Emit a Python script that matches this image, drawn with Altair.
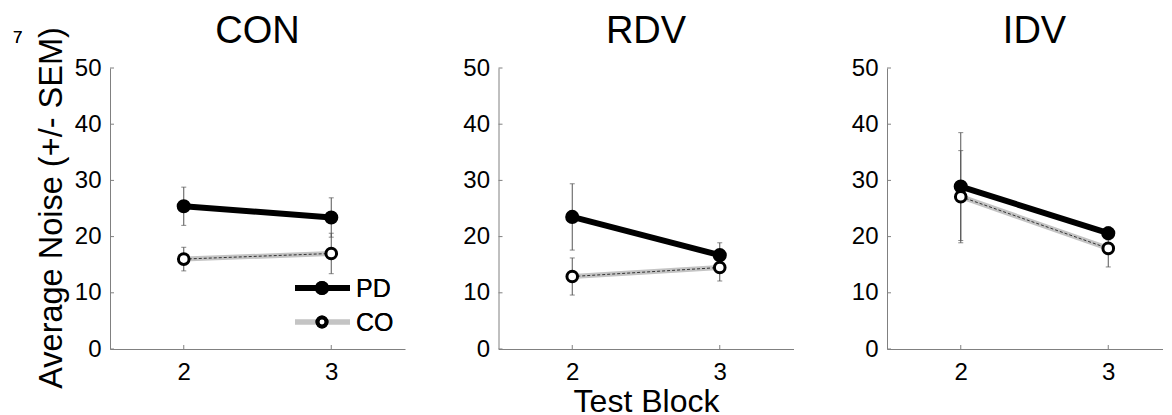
import altair as alt
import pandas as pd

# ---- data ----
conditions = ["CON", "RDV", "IDV"]
blocks = [2, 3]
groups = ["PD", "CO"]

pd_mean = {"CON": [25.4, 23.4], "RDV": [23.5, 16.7], "IDV": [28.9, 20.6]}
pd_sem = {"CON": [3.4, 3.5], "RDV": [5.9, 2.2], "IDV": [9.6, 1.2]}
co_mean = {"CON": [16.0, 17.0], "RDV": [12.9, 14.5], "IDV": [27.1, 17.9]}
co_sem = {"CON": [2.1, 3.6], "RDV": [3.3, 2.4], "IDV": [8.2, 3.3]}

y_ticks = [0, 10, 20, 30, 40, 50]
legend_labels = ["PD", "CO"]

rows = []
for c in conditions:
    for g, m, s in (("PD", pd_mean, pd_sem), ("CO", co_mean, co_sem)):
        for i, b in enumerate(blocks):
            rows.append({"condition": c, "group": g, "block": b,
                         "mean": m[c][i], "lo": m[c][i] - s[c][i], "hi": m[c][i] + s[c][i]})
df = pd.DataFrame(rows)
ticks_df = pd.DataFrame({"v": y_ticks})
xt_df = pd.DataFrame({"b": blocks})

FONT = "Liberation Sans"
H = 281
UNIT = 147.5  # px per block unit
AX = "#808080"


def panel(cond, width, first=False, middle=False):
    d = df[df.condition == cond]
    xs = alt.Scale(domain=[1.5, 1.5 + width / UNIT], nice=False, zero=False)
    ys = alt.Scale(domain=[0, 50], nice=False)
    xaxis = alt.Axis(values=blocks, format="d", labelPadding=11,
                     title="Test Block" if middle else None, titlePadding=2)
    yaxis = alt.Axis(values=y_ticks, labelPadding=9,
                     title="Average Noise (+/- SEM)" if first else None,
                     titleX=-49, titleY=H / 2 - 1, titleBaseline="alphabetic")
    base = alt.Chart(d)
    X = alt.X("block:Q", scale=xs, axis=xaxis)
    Y = alt.Y("mean:Q", scale=ys, axis=yaxis)

    err = base.mark_rule(color="#555555", strokeWidth=1).encode(
        x=X, y=alt.Y("lo:Q", scale=ys, axis=yaxis), y2="hi:Q")
    cap_lo = base.mark_tick(color="#555555", thickness=1, size=5, orient="horizontal").encode(
        x=X, y=alt.Y("lo:Q", scale=ys, axis=yaxis))
    cap_hi = base.mark_tick(color="#555555", thickness=1, size=5, orient="horizontal").encode(
        x=X, y=alt.Y("hi:Q", scale=ys, axis=yaxis))

    pdd = base.transform_filter(alt.datum.group == "PD")
    cod = base.transform_filter(alt.datum.group == "CO")
    pd_line = pdd.mark_line(color="black", strokeWidth=6).encode(x=X, y=Y)
    pd_pts = pdd.mark_point(filled=True, color="black", size=200, opacity=1).encode(x=X, y=Y)
    co_line = cod.mark_line(color="#c4c4c4", strokeWidth=5).encode(x=X, y=Y)
    co_dash = cod.mark_line(color="#333333", strokeWidth=1, strokeDash=[3, 2]).encode(x=X, y=Y)
    co_pts = cod.mark_point(filled=True, fill="white", stroke="black", strokeWidth=3,
                            size=113, opacity=1).encode(x=X, y=Y)

    yt = alt.Chart(ticks_df).mark_rule(color=AX, strokeWidth=1).encode(
        y=alt.Y("v:Q", scale=ys, axis=yaxis), x=alt.value(0), x2=alt.value(4))
    xt = alt.Chart(xt_df).mark_rule(color=AX, strokeWidth=1).encode(
        x=alt.X("b:Q", scale=xs, axis=xaxis), y=alt.value(H), y2=alt.value(H - 4))

    title = alt.Chart(pd.DataFrame({"t": [cond]})).mark_text(
        font=FONT, fontSize=38, align="center", baseline="alphabetic").encode(
        text="t:N", x=alt.value(147.5), y=alt.value(-25))

    layers = [yt, xt, err, cap_lo, cap_hi, pd_line, pd_pts, co_line, co_dash, co_pts, title]

    if first:
        one = alt.Chart(pd.DataFrame({"label": legend_labels}))
        leg = [
            one.mark_rule(color="black", strokeWidth=6).encode(
                x=alt.value(185), x2=alt.value(240), y=alt.value(220)),
            one.mark_point(filled=True, color="black", size=200, opacity=1).encode(
                x=alt.value(212), y=alt.value(220)),
            one.mark_rule(color="#c4c4c4", strokeWidth=5).encode(
                x=alt.value(185), x2=alt.value(240), y=alt.value(254)),
            one.mark_point(filled=True, fill="white", stroke="black", strokeWidth=4,
                           size=80, opacity=1).encode(x=alt.value(212), y=alt.value(254)),
            one.mark_text(font=FONT, fontSize=25, align="left", baseline="middle").encode(
                text=alt.value(legend_labels[0]), x=alt.value(246), y=alt.value(221)),
            one.mark_text(font=FONT, fontSize=25, align="left", baseline="middle").encode(
                text=alt.value(legend_labels[1]), x=alt.value(246), y=alt.value(255)),
            one.mark_text(font=FONT, fontSize=17, align="left", baseline="alphabetic").encode(
                text=alt.value("7"), x=alt.value(-97), y=alt.value(-25)),
        ]
        layers += leg

    return alt.layer(*layers).properties(width=width, height=H)


chart = alt.hconcat(
    panel("CON", 295, first=True), panel("RDV", 295, middle=True), panel("IDV", 276),
    spacing=93.5, bounds="flush",
).properties(
    padding={"left": 5, "top": 5, "right": 0, "bottom": 0}
).configure_view(strokeOpacity=0).configure_axis(
    domainColor=AX, domainWidth=1, ticks=False, grid=False,
    labelFont=FONT, labelFontSize=24, labelColor="black",
    titleFont=FONT, titleFontSize=32.5, titleFontWeight="normal", titleColor="black",
).configure_axisX(titleFontSize=32)

chart.save("out.html", embed_options={"renderer": "svg", "actions": False})
